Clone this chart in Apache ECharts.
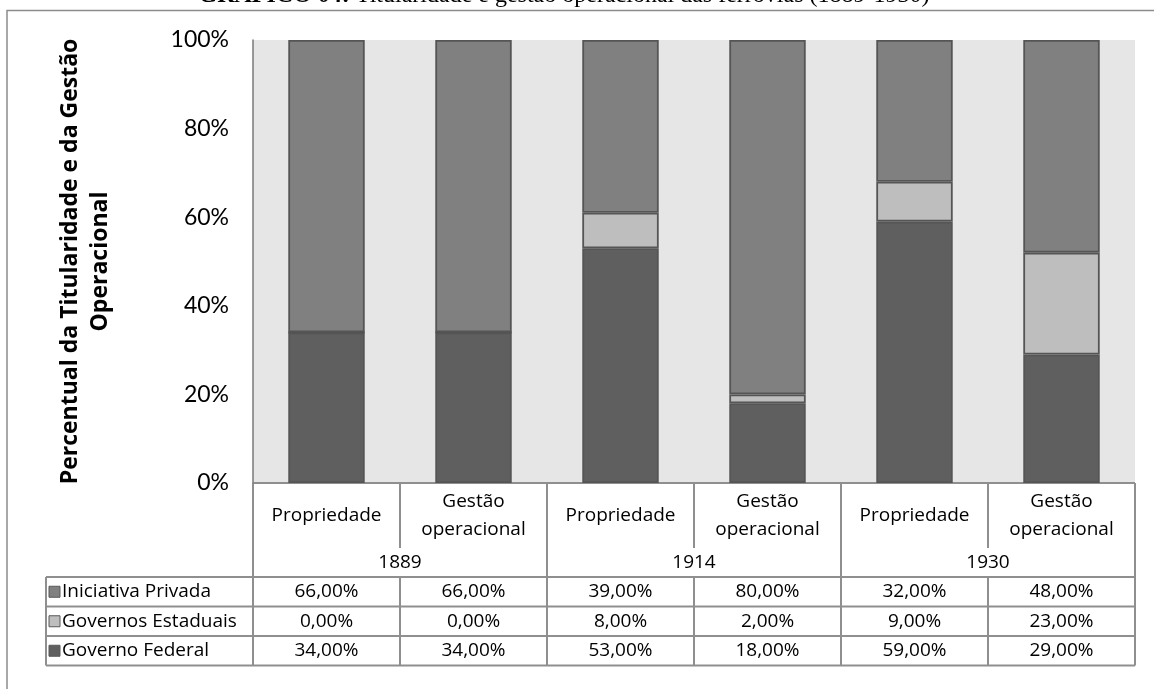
<!DOCTYPE html>
<html>
<head>
<meta charset="utf-8">
<script src="https://cdn.jsdelivr.net/npm/echarts@6/dist/echarts.min.js"></script>
<style>
html, body { margin: 0; padding: 0; background: #fff; }
#main { width: 1154px; height: 689px; }
</style>
</head>
<body>
<div id="main"></div>
<script>
var categories = ['Propriedade', 'Gestão\noperacional', 'Propriedade', 'Gestão\noperacional', 'Propriedade', 'Gestão\noperacional'];
var years = ['1889', '1914', '1930'];
var seriesNames = ['Iniciativa Privada', 'Governos Estaduais', 'Governo Federal'];
var privada = [66, 66, 39, 80, 32, 48];
var estaduais = [0, 0, 8, 2, 9, 23];
var federal = [34, 34, 53, 18, 59, 29];

var colors = { privada: '#808080', estaduais: '#bebebe', federal: '#5f5f5f' };
var tickFont = 'Lato, "Open Sans", sans-serif';
var font = '"Open Sans", Lato, sans-serif';
var lineColor = '#8f8f8f';

function fmt(v) {
	return v.toFixed(2).replace('.', ',') + '%';
}

function barSeries(name, data, color) {
	return {
		name: name,
		type: 'bar',
		stack: 'total',
		barWidth: '52%',
		data: data,
		itemStyle: { color: color, borderColor: '#555555', borderWidth: 1.8 },
		emphasis: { disabled: true }
	};
}

var chart = echarts.init(document.getElementById('main'));

var option = {
	animation: false,
	backgroundColor: '#fff',
	grid: {
		left: 253,
		right: 19,
		top: 40,
		bottom: 206,
		show: true,
		backgroundColor: '#e6e6e6',
		borderWidth: 0
	},
	xAxis: {
		type: 'category',
		data: categories,
		axisLine: { show: false },
		axisTick: { show: false },
		axisLabel: { show: false },
		splitLine: { show: false }
	},
	yAxis: {
		type: 'value',
		min: 0,
		max: 100,
		interval: 20,
		axisLine: { show: true, lineStyle: { color: '#7a7a7a', width: 1.5 } },
		axisTick: { show: false },
		splitLine: { show: false },
		axisLabel: {
			formatter: '{value}%',
			fontSize: 23,
			color: '#000',
			fontFamily: tickFont,
			margin: 24
		},
		name: 'Percentual da Titularidade e da Gestão\nOperacional',
		nameLocation: 'middle',
		nameRotate: 90,
		nameGap: 138,
		nameTextStyle: {
			fontSize: 23,
			fontWeight: 'bold',
			color: '#000',
			fontFamily: font,
			lineHeight: 30
		}
	},
	series: [
		barSeries(seriesNames[2], federal, colors.federal),
		barSeries(seriesNames[1], estaduais, colors.estaduais),
		barSeries(seriesNames[0], privada, colors.privada)
	]
};

chart.setOption(option);

// table under the plot, positioned from the category axis
var c0 = chart.convertToPixel({ xAxisIndex: 0 }, 0);
var c1 = chart.convertToPixel({ xAxisIndex: 0 }, 1);
var band = c1 - c0;
var L = c0 - band / 2;
var R = L + band * categories.length;
var yBase = chart.convertToPixel({ yAxisIndex: 0 }, 0);
var catBottom = yBase + 65;
var yearBottom = catBottom + 29;
var rowH = 29.5;
var tableLeft = 46;

var g = [];
function hline(x1, x2, y) {
	g.push({ type: 'line', shape: { x1: x1, y1: y, x2: x2, y2: y }, style: { stroke: lineColor, lineWidth: 2 }, silent: true });
}
function vline(x, y1, y2) {
	g.push({ type: 'line', shape: { x1: x, y1: y1, x2: x, y2: y2 }, style: { stroke: lineColor, lineWidth: 2 }, silent: true });
}
function txt(s, x, y, align) {
	g.push({
		type: 'text', x: x, y: y, silent: true,
		style: { text: s, font: '19px ' + font, fill: '#000', align: align || 'center', verticalAlign: 'middle', lineHeight: 28 }
	});
}

// title (cut off at the top of the picture)
g.push({
	type: 'text', x: 564, y: 8, silent: true,
	style: {
		text: '{b|GRÁFICO 04:} Titularidade e gestão operacional das ferrovias (1889-1930)',
		font: '24px "Liberation Serif", serif', fill: '#000', align: 'center', verticalAlign: 'bottom',
		rich: { b: { fontWeight: 'bold', fontFamily: '"Liberation Serif", serif', fontSize: 24 } }
	}
});
// outer frame
g.push({ type: 'rect', shape: { x: 7, y: 10.5, width: 1170, height: 700 }, style: { fill: 'none', stroke: '#8c8c8c', lineWidth: 1.5 }, silent: true });

// category row
hline(L, R, yBase);
for (var i = 0; i <= categories.length; i++) {
	var x = L + band * i;
	vline(x, yBase, i % 2 === 0 ? yearBottom : catBottom);
	if (i < categories.length) txt(categories[i], x + band / 2, (yBase + catBottom) / 2);
}
// year row
for (var k = 0; k < years.length; k++) {
	txt(years[k], L + band * (2 * k + 1), (catBottom + yearBottom) / 2);
}

// data rows
var rows = [
	{ name: seriesNames[0], data: privada, color: colors.privada },
	{ name: seriesNames[1], data: estaduais, color: colors.estaduais },
	{ name: seriesNames[2], data: federal, color: colors.federal }
];
hline(tableLeft, R, yearBottom);
vline(tableLeft, yearBottom, yearBottom + rowH * rows.length);
rows.forEach(function (r, ri) {
	var top = yearBottom + rowH * ri;
	var mid = top + rowH / 2;
	hline(tableLeft, R, top + rowH);
	g.push({ type: 'rect', shape: { x: tableLeft + 3, y: mid - 5.5, width: 11, height: 11 }, style: { fill: r.color, stroke: '#585858', lineWidth: 1 }, silent: true });
	txt(r.name, tableLeft + 16, mid, 'left');
	r.data.forEach(function (v, ci) {
		txt(fmt(v), L + band * ci + band / 2, mid);
	});
});
for (var j = 0; j <= categories.length; j++) {
	vline(L + band * j, yearBottom, yearBottom + rowH * rows.length);
}

chart.setOption({ graphic: g });
window.addEventListener('resize', chart.resize);
</script>
</body>
</html>
